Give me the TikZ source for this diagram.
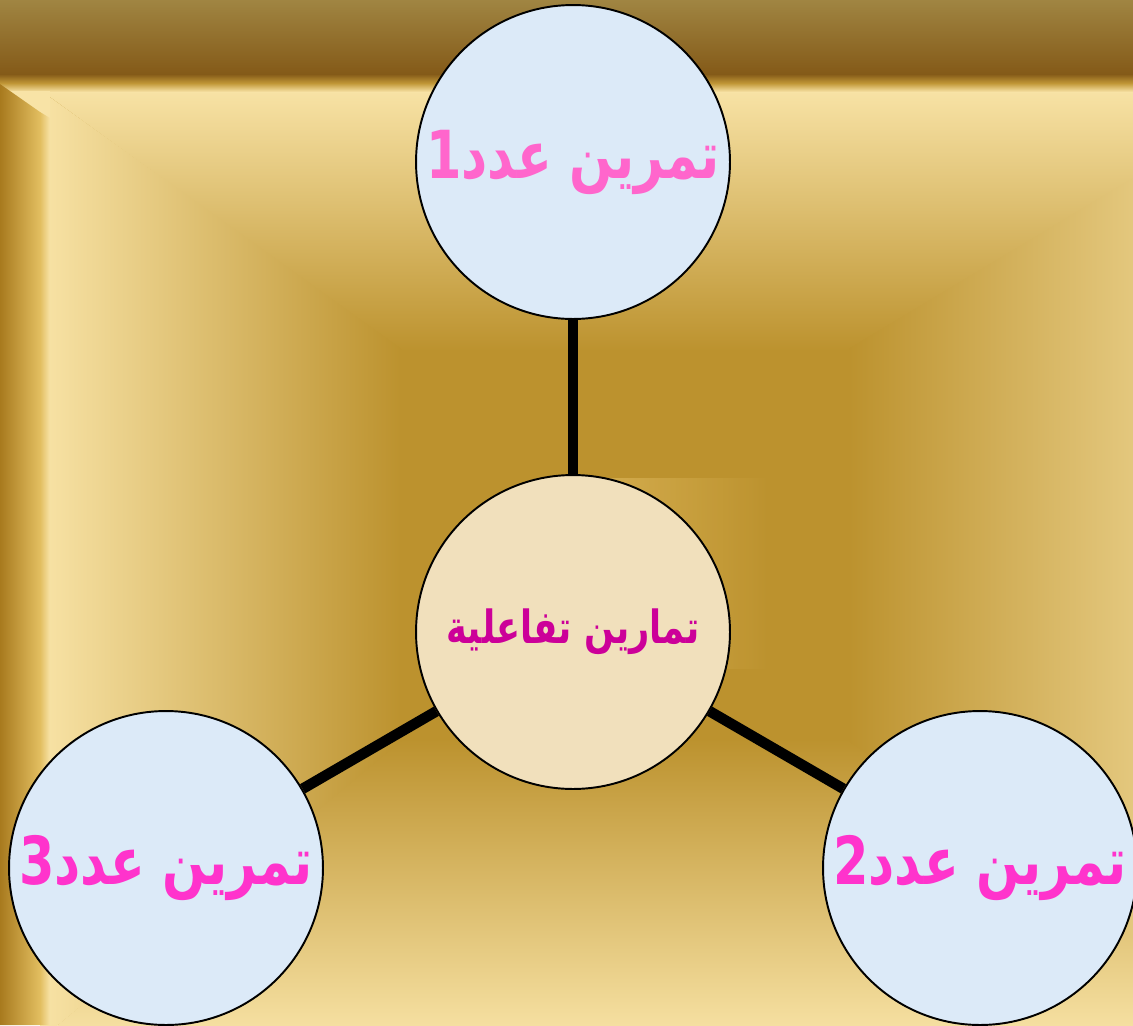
\documentclass[tikz,border=0pt]{standalone}
\usepackage{fontspec,graphicx}
\TeXXeTstate=1
\newfontfamily\arabicfont[Script=Arabic]{DejaVu Sans}
\newcommand\tallar[1]{\makebox[0pt]{\scalebox{1}[1.3]{\beginR#1\endR}}}
\definecolor{goldlight}{HTML}{F8E3A6}
\definecolor{golddark}{HTML}{BC922E}
\definecolor{bandtop}{HTML}{A08542}
\definecolor{bandlow}{HTML}{845A18}
\definecolor{bandedge}{HTML}{C09636}
\definecolor{stripout}{HTML}{A87A1E}
\definecolor{stripin}{HTML}{E2BE60}
\definecolor{glow}{HTML}{DEB85C}
\definecolor{bubble}{HTML}{DCEAF8}
\definecolor{parchment}{HTML}{F1E0BC}
\definecolor{pinklight}{HTML}{FF66CC}
\definecolor{pinkhot}{HTML}{FF33CC}
\definecolor{magenta}{HTML}{CC0099}

\begin{document}
\begin{tikzpicture}[x=0.02cm,y=-0.02cm,
  exnode/.style={circle,draw=black,line width=1.1pt,fill=bubble,minimum size=6.28cm,inner sep=0pt,font=\arabicfont\bfseries\fontsize{29}{32}\selectfont},
  hubnode/.style={circle,draw=black,line width=1.1pt,fill=parchment,minimum size=6.28cm,inner sep=0pt,font=\arabicfont\bfseries\fontsize{20}{24}\selectfont,text=magenta},
  link/.style={line width=6pt,black}]
\useasboundingbox(0,0)rectangle(1133,1025);
\clip(0,0)rectangle(1133,1025);
% gold frame
\fill[golddark](0,0)rectangle(1133,1025);
\shade[top color=goldlight,bottom color=golddark](39,89)--(1281,89)--(850,351)--(400,351)--cycle;
\shade[top color=golddark,bottom color=goldlight](399,739)--(851,739)--(1280,1040)--(40,1040)--cycle;
\shade[left color=goldlight,right color=golddark](40,90)--(401,349)--(401,741)--(40,1040)--cycle;
\shade[left color=golddark,right color=goldlight](849,349)--(1280,90)--(1280,1040)--(849,741)--cycle;
\shade[left color=glow,right color=golddark,opacity=0.8](573,478)rectangle(772,668);
\shade[top color=bandtop,bottom color=bandlow](0,0)rectangle(1133,74);
\shade[top color=bandlow,bottom color=goldlight,middle color=bandedge](0,74)rectangle(1133,92);
\fill[goldlight](0,91)rectangle(50,125);
\shade[left color=stripout,right color=stripin](0,84)--(40,112)--(40,1025)--(0,1025)--cycle;
\shade[left color=stripin,right color=goldlight](40,112)--(50,118)--(50,1025)--(40,1025)--cycle;
% nodes
\node[hubnode](C)at(573,632){\tallar{تمارين تفاعلية}};
\node[exnode,text=pinklight](T1)at(573,162){\tallar{تمرين عدد1}};
\node[exnode,text=pinkhot](T2)at(980,868){\tallar{تمرين عدد2}};
\node[exnode,text=pinkhot](T3)at(166,868){\tallar{تمرين عدد3}};
\draw[link](C)--(T1);\draw[link](C)--(T2);\draw[link](C)--(T3);
\end{tikzpicture}
\end{document}
